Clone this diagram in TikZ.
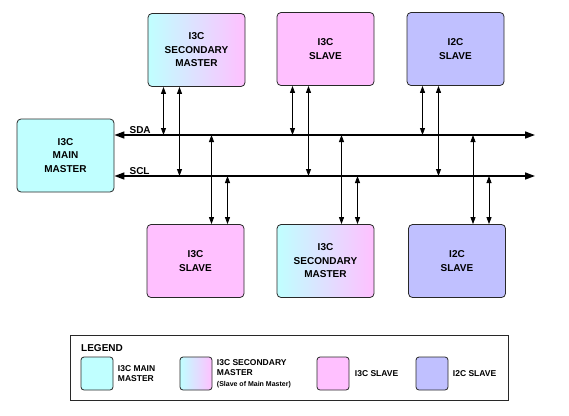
\documentclass[tikz,border=0pt]{standalone}
\usepackage{fontspec}
\setmainfont{Liberation Sans}
\usetikzlibrary{shapes,arrows.meta}
\definecolor{mcyan}{RGB}{192,255,255}
\definecolor{mpink}{RGB}{255,192,255}
\definecolor{mblue}{RGB}{192,192,255}
\definecolor{edge}{RGB}{40,40,40}

\begin{document}
\begin{tikzpicture}[x=1pt,y=-1pt]
      \tikzstyle{dev}=[draw=edge,line width=0.8pt,rounded corners=4pt,minimum width=97pt,minimum height=73pt,align=center,font=\fontsize{10}{13.5}\selectfont\bfseries]
      \tikzstyle{swatch}=[draw=edge,line width=0.8pt,rounded corners=3pt,minimum width=32pt,minimum height=33pt]
      \tikzstyle{key}=[anchor=west,align=left,font=\fontsize{8.5}{10.7}\selectfont\bfseries]
      \tikzstyle{bus}=[line width=1.5pt,{Triangle[length=10pt,width=7pt]}-{Triangle[length=10pt,width=7pt]}]
      \tikzstyle{link}=[line width=0.8pt,{Triangle[length=7pt,width=5pt]}-{Triangle[length=7pt,width=5pt]}]
      \useasboundingbox (0,0) rectangle (569,415);
      % devices
      \node[dev,fill=mcyan] (mm) at (65.5,155.5) {I3C\\MAIN\\MASTER};
      \node[dev,left color=mcyan,right color=mpink] (sm1) at (196.5,50) {I3C\\SECONDARY\\MASTER};
      \node[dev,fill=mpink] (sl1) at (325.5,49) {I3C\\SLAVE};
      \node[dev,fill=mblue] (i2c1) at (455.5,49) {I2C\\SLAVE};
      \node[dev,fill=mpink] (sl2) at (195.5,261) {I3C\\SLAVE};
      \node[dev,left color=mcyan,right color=mpink] (sm2) at (325.5,261) {I3C\\SECONDARY\\MASTER};
      \node[dev,fill=mblue] (i2c2) at (457,261) {I2C\\SLAVE};
      % bus
      \coordinate (sdaR) at (535,135);
      \coordinate (sclR) at (535,176);
      \draw[bus] (mm.east |- sdaR) -- (sdaR);
      \draw[bus] (mm.east |- sclR) -- (sclR);
      \node[font=\fontsize{10}{11}\selectfont\bfseries,anchor=south west,inner sep=1pt] (sda) at ([xshift=14pt]mm.east |- sdaR) {SDA};
      \node[font=\fontsize{10}{11}\selectfont\bfseries,anchor=south west,inner sep=1pt] (scl) at ([xshift=14pt]mm.east |- sclR) {SCL};
      \foreach \n in {sm1,sl1,i2c1}{
        \path ([xshift=-33pt]\n.south) coordinate (\n-d) ([xshift=-17pt]\n.south) coordinate (\n-c);
        \draw[link] (\n-d) -- (\n-d |- sdaR);
        \draw[link] (\n-c) -- (\n-c |- sclR);
      }
      \foreach \n in {sl2,sm2,i2c2}{
        \path ([xshift=16pt]\n.north) coordinate (\n-d) ([xshift=32pt]\n.north) coordinate (\n-c);
        \draw[link] (\n-d |- sdaR) -- (\n-d);
        \draw[link] (\n-c |- sclR) -- (\n-c);
      }
      % legend
      \node[draw=edge,line width=1pt,minimum width=438pt,minimum height=65pt] (lg) at (289,367.5) {};
      \node[anchor=west,inner sep=0pt,font=\fontsize{10}{11}\selectfont\bfseries] (lgt) at (81,348) {LEGEND};
      \node[swatch,fill=mcyan] (k1) at (97,373.5) {};
      \node[key] (t1) at ([xshift=1pt]k1.east) {I3C MAIN\\MASTER};
      \node[swatch,left color=mcyan,right color=mpink] (k2) at (196,373.5) {};
      \node[key] (t2) at ([xshift=1pt]k2.east) {I3C SECONDARY\\MASTER\\{\fontsize{7}{8}\selectfont (Slave of Main Master)}};
      \node[swatch,fill=mpink] (k3) at (333,373.5) {};
      \node[key] (t3) at ([xshift=2pt]k3.east) {I3C SLAVE};
      \node[swatch,fill=mblue] (k4) at (432,373.5) {};
      \node[key] (t4) at ([xshift=1pt]k4.east) {I2C SLAVE};
\end{tikzpicture}
\end{document}
